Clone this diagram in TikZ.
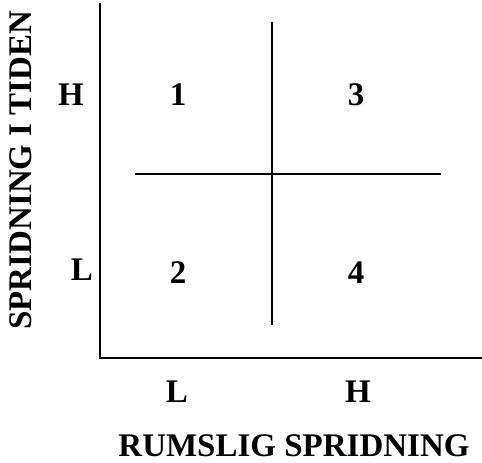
\documentclass[tikz,border=0pt]{standalone}
\usepackage{fontspec}
\setmainfont{Liberation Serif}
\usepackage{tikz}

\begin{document}
\begin{tikzpicture}[x=1pt, y=-1pt,
  lbl/.style={font=\fontsize{33}{36}\selectfont\bfseries, inner sep=0pt},
  axis/.style={line width=1.8pt},
  split/.style={line width=1.3pt}]
  \useasboundingbox (0,0) rectangle (482,463);
  % axes
  \coordinate (top)    at (100,3);
  \coordinate (origin) at (100,358);
  \coordinate (right)  at (482,358);
  \draw[axis] (top) -- (origin) -- (right);
  % quadrant split
  \coordinate (vt) at (272,22);
  \coordinate (vb) at (272,325);
  \coordinate (hl) at (135,174);
  \coordinate (hr) at (441,174);
  \draw[split] (vt) -- (vb);
  \draw[split] (hl) -- (hr);
  % quadrant numbers
  \node[lbl] (q1) at (178,95)  {1};
  \node[lbl] (q3) at (356,95)  {3};
  \node[lbl] (q2) at (178,273) {2};
  \node[lbl] (q4) at (356,273) {4};
  % tick labels
  \node[lbl] (yh) at (71,95)   {H};
  \node[lbl] (yl) at (82,270)  {L};
  \node[lbl] (xl) at (177,392) {L};
  \node[lbl] (xh) at (358,392) {H};
  % axis titles
  \node[lbl] (xtitle) at (294,446) {RUMSLIG SPRIDNING};
  \node[lbl, rotate=90] (ytitle) at (21,170) {SPRIDNING I TIDEN};
\end{tikzpicture}
\end{document}
